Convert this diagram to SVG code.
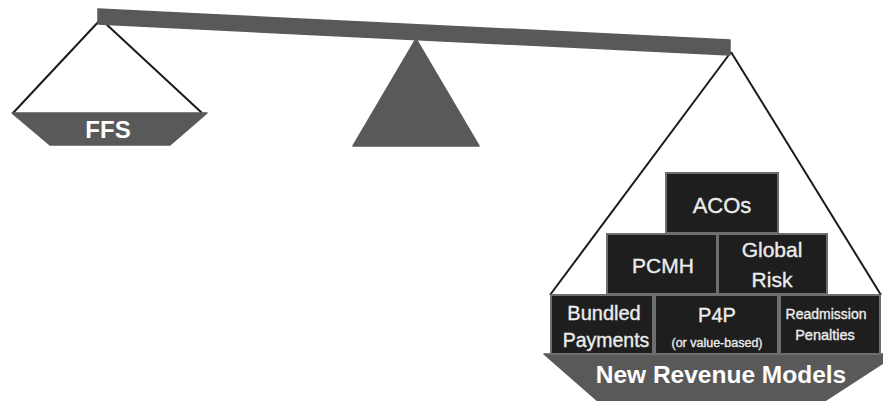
<svg xmlns="http://www.w3.org/2000/svg" width="883" height="401" viewBox="0 0 883 401">
<style>
.shape{fill:#595959;stroke:#595959;stroke-width:1.5;stroke-linejoin:round}
.string{stroke:#1a1a1a;stroke-width:2;fill:none}
.box{fill:#1e1e1e;stroke:#6e6e6e;stroke-width:2}
.lbl{font-family:"Liberation Sans",Arial,sans-serif;fill:#ececec;stroke:#ececec;stroke-width:0.35;text-anchor:middle}
.big{font-family:"Liberation Sans",Arial,sans-serif;font-weight:bold;fill:#ffffff;text-anchor:middle}
</style>
<rect width="883" height="401" fill="#ffffff"/>
<g id="connectors">
<line class="string" x1="101" y1="19" x2="13" y2="113"/>
<line class="string" x1="105" y1="23" x2="202" y2="113"/>
<line class="string" x1="731" y1="52" x2="550" y2="295"/>
<line class="string" x1="731" y1="52" x2="881" y2="295"/>
</g>
<g id="beam">
<polygon class="shape" points="98,9 730,40 730,55 98,24"/>
</g>
<g id="fulcrum">
<polygon class="shape" points="416,39 479,146 353,146"/>
</g>
<g id="ffs-pan">
<polygon class="shape" points="12,113 207,113 170,145 50,145"/>
<text class="big" x="108" y="138" font-size="24">FFS</text>
</g>
<g id="new-revenue-pan">
<polygon class="shape" points="544,354 897,354 823,402 599,402"/>
<text class="big" x="721" y="383" font-size="24.5">New Revenue Models</text>
</g>
<g id="acos">
<rect class="box" x="666" y="173" width="112" height="60"/>
<text class="lbl" x="722" y="213" font-size="22">ACOs</text>
</g>
<g id="pcmh">
<rect class="box" x="607" y="234" width="110" height="60"/>
<text class="lbl" x="663" y="273" font-size="21">PCMH</text>
</g>
<g id="global-risk">
<rect class="box" x="718" y="234" width="109" height="60"/>
<text class="lbl" x="772" y="257" font-size="21">Global</text>
<text class="lbl" x="772" y="287" font-size="21">Risk</text>
</g>
<g id="bundled-payments">
<rect class="box" x="551" y="295" width="102" height="59"/>
<text class="lbl" x="604" y="320" font-size="20">Bundled</text>
<text class="lbl" x="606" y="347" font-size="19.5">Payments</text>
</g>
<g id="p4p">
<rect class="box" x="655" y="295" width="123" height="59"/>
<text class="lbl" x="717" y="322" font-size="20">P4P</text>
<text class="lbl" x="717" y="347" font-size="12.5" stroke-width="0.2">(or value-based)</text>
</g>
<g id="readmission-penalties">
<rect class="box" x="780" y="295" width="100" height="59"/>
<text class="lbl" x="826" y="319" font-size="14" stroke-width="0.25">Readmission</text>
<text class="lbl" x="825" y="340" font-size="14.5" stroke-width="0.25">Penalties</text>
</g>
</svg>
